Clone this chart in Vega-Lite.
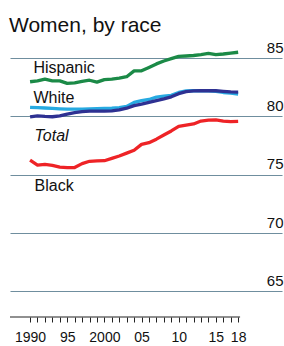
{
  "$schema": "https://vega.github.io/schema/vega-lite/v6.json",
  "autosize": {"type": "none"},
  "padding": {"left": 10, "top": 40, "right": 2, "bottom": 29},
  "width": 272,
  "height": 277,
  "background": "white",
  "config": {"font": "Liberation Sans", "view": {"stroke": null}},
  "title": {"text": "Women, by race", "anchor": "start", "frame": "group", "fontSize": 21, "fontWeight": "normal", "color": "#111111", "offset": 4, "dx": -1},
  "datasets": {
    "lines": [
      {"year": 1990, "series": "Hispanic", "value": 82.97},
      {"year": 1991, "series": "Hispanic", "value": 83.05},
      {"year": 1992, "series": "Hispanic", "value": 83.2},
      {"year": 1993, "series": "Hispanic", "value": 83.05},
      {"year": 1994, "series": "Hispanic", "value": 83.05},
      {"year": 1995, "series": "Hispanic", "value": 82.83},
      {"year": 1996, "series": "Hispanic", "value": 82.88},
      {"year": 1997, "series": "Hispanic", "value": 83.0},
      {"year": 1998, "series": "Hispanic", "value": 83.1},
      {"year": 1999, "series": "Hispanic", "value": 82.94},
      {"year": 2000, "series": "Hispanic", "value": 83.15},
      {"year": 2001, "series": "Hispanic", "value": 83.2},
      {"year": 2002, "series": "Hispanic", "value": 83.28},
      {"year": 2003, "series": "Hispanic", "value": 83.4},
      {"year": 2004, "series": "Hispanic", "value": 83.9},
      {"year": 2005, "series": "Hispanic", "value": 83.91},
      {"year": 2006, "series": "Hispanic", "value": 84.2},
      {"year": 2007, "series": "Hispanic", "value": 84.5},
      {"year": 2008, "series": "Hispanic", "value": 84.75},
      {"year": 2009, "series": "Hispanic", "value": 84.95},
      {"year": 2010, "series": "Hispanic", "value": 85.15},
      {"year": 2011, "series": "Hispanic", "value": 85.18},
      {"year": 2012, "series": "Hispanic", "value": 85.22},
      {"year": 2013, "series": "Hispanic", "value": 85.3},
      {"year": 2014, "series": "Hispanic", "value": 85.4},
      {"year": 2015, "series": "Hispanic", "value": 85.3},
      {"year": 2016, "series": "Hispanic", "value": 85.35},
      {"year": 2017, "series": "Hispanic", "value": 85.42},
      {"year": 2018, "series": "Hispanic", "value": 85.5},
      {"year": 1990, "series": "White", "value": 80.77},
      {"year": 1991, "series": "White", "value": 80.75},
      {"year": 1992, "series": "White", "value": 80.72},
      {"year": 1993, "series": "White", "value": 80.68},
      {"year": 1994, "series": "White", "value": 80.65},
      {"year": 1995, "series": "White", "value": 80.62},
      {"year": 1996, "series": "White", "value": 80.62},
      {"year": 1997, "series": "White", "value": 80.63},
      {"year": 1998, "series": "White", "value": 80.65},
      {"year": 1999, "series": "White", "value": 80.66},
      {"year": 2000, "series": "White", "value": 80.68},
      {"year": 2001, "series": "White", "value": 80.7},
      {"year": 2002, "series": "White", "value": 80.75},
      {"year": 2003, "series": "White", "value": 80.85},
      {"year": 2004, "series": "White", "value": 81.2},
      {"year": 2005, "series": "White", "value": 81.35},
      {"year": 2006, "series": "White", "value": 81.45},
      {"year": 2007, "series": "White", "value": 81.65},
      {"year": 2008, "series": "White", "value": 81.74},
      {"year": 2009, "series": "White", "value": 81.8},
      {"year": 2010, "series": "White", "value": 82.05},
      {"year": 2011, "series": "White", "value": 82.18},
      {"year": 2012, "series": "White", "value": 82.2},
      {"year": 2013, "series": "White", "value": 82.2},
      {"year": 2014, "series": "White", "value": 82.18},
      {"year": 2015, "series": "White", "value": 82.15},
      {"year": 2016, "series": "White", "value": 82.05},
      {"year": 2017, "series": "White", "value": 82.0},
      {"year": 2018, "series": "White", "value": 81.92},
      {"year": 1990, "series": "Black", "value": 76.24},
      {"year": 1991, "series": "Black", "value": 75.82},
      {"year": 1992, "series": "Black", "value": 75.88},
      {"year": 1993, "series": "Black", "value": 75.8},
      {"year": 1994, "series": "Black", "value": 75.65},
      {"year": 1995, "series": "Black", "value": 75.6},
      {"year": 1996, "series": "Black", "value": 75.62},
      {"year": 1997, "series": "Black", "value": 75.95},
      {"year": 1998, "series": "Black", "value": 76.15},
      {"year": 1999, "series": "Black", "value": 76.18},
      {"year": 2000, "series": "Black", "value": 76.2},
      {"year": 2001, "series": "Black", "value": 76.4},
      {"year": 2002, "series": "Black", "value": 76.6},
      {"year": 2003, "series": "Black", "value": 76.85},
      {"year": 2004, "series": "Black", "value": 77.1},
      {"year": 2005, "series": "Black", "value": 77.6},
      {"year": 2006, "series": "Black", "value": 77.75},
      {"year": 2007, "series": "Black", "value": 78.05},
      {"year": 2008, "series": "Black", "value": 78.4},
      {"year": 2009, "series": "Black", "value": 78.75},
      {"year": 2010, "series": "Black", "value": 79.15},
      {"year": 2011, "series": "Black", "value": 79.25},
      {"year": 2012, "series": "Black", "value": 79.35},
      {"year": 2013, "series": "Black", "value": 79.6},
      {"year": 2014, "series": "Black", "value": 79.68},
      {"year": 2015, "series": "Black", "value": 79.7},
      {"year": 2016, "series": "Black", "value": 79.6},
      {"year": 2017, "series": "Black", "value": 79.55},
      {"year": 2018, "series": "Black", "value": 79.57},
      {"year": 1990, "series": "Total", "value": 79.96},
      {"year": 1991, "series": "Total", "value": 80.05},
      {"year": 1992, "series": "Total", "value": 80.0},
      {"year": 1993, "series": "Total", "value": 79.97},
      {"year": 1994, "series": "Total", "value": 80.05},
      {"year": 1995, "series": "Total", "value": 80.2},
      {"year": 1996, "series": "Total", "value": 80.32},
      {"year": 1997, "series": "Total", "value": 80.4},
      {"year": 1998, "series": "Total", "value": 80.45},
      {"year": 1999, "series": "Total", "value": 80.45},
      {"year": 2000, "series": "Total", "value": 80.45},
      {"year": 2001, "series": "Total", "value": 80.48},
      {"year": 2002, "series": "Total", "value": 80.55},
      {"year": 2003, "series": "Total", "value": 80.7},
      {"year": 2004, "series": "Total", "value": 80.92},
      {"year": 2005, "series": "Total", "value": 81.05},
      {"year": 2006, "series": "Total", "value": 81.2},
      {"year": 2007, "series": "Total", "value": 81.35},
      {"year": 2008, "series": "Total", "value": 81.5},
      {"year": 2009, "series": "Total", "value": 81.68},
      {"year": 2010, "series": "Total", "value": 81.95},
      {"year": 2011, "series": "Total", "value": 82.12},
      {"year": 2012, "series": "Total", "value": 82.18},
      {"year": 2013, "series": "Total", "value": 82.2},
      {"year": 2014, "series": "Total", "value": 82.2},
      {"year": 2015, "series": "Total", "value": 82.2},
      {"year": 2016, "series": "Total", "value": 82.15},
      {"year": 2017, "series": "Total", "value": 82.1},
      {"year": 2018, "series": "Total", "value": 82.08}
    ],
    "labels": [
      {"label": "Hispanic", "year": 1990.45, "value": 83.69, "italic": false},
      {"label": "White", "year": 1990.45, "value": 81.12, "italic": false},
      {"label": "Total", "year": 1990.6, "value": 77.89, "italic": true},
      {"label": "Black", "year": 1990.6, "value": 73.6, "italic": false}
    ],
    "baseline": [
      {"year": 1987.3, "year_end": 2018.26, "value": 62.8}
    ]
  },
  "encoding": {
    "x": {"field": "year", "type": "quantitative", "scale": {"domain": [1987.3, 2023.9], "nice": false, "zero": false},
      "axis": {"orient": "bottom", "domain": false, "grid": false, "values": [1990,1991,1992,1993,1994,1995,1996,1997,1998,1999,2000,2001,2002,2003,2004,2005,2006,2007,2008,2009,2010,2011,2012,2013,2014,2015,2016,2017,2018],
        "labelExpr": "datum.value == 1990 || datum.value == 2000 ? '' + datum.value : (datum.value % 5 == 0 || datum.value == 2018) ? slice('' + datum.value, 2) : ''",
        "tickSize": 5, "tickColor": "#222222", "tickWidth": 1, "labelFontSize": 14, "labelColor": "#111111", "labelPadding": 8, "labelFlush": false, "labelOverlap": false, "labelBound": false, "title": null}},
    "y": {"field": "value", "type": "quantitative", "scale": {"domain": [62.8, 86.55], "nice": false, "zero": false},
      "axis": {"orient": "right", "values": [65, 70, 75, 80, 85], "grid": true, "gridColor": "#6F8E9E", "gridWidth": 1.2, "gridOpacity": 1, "domain": false, "ticks": false, "labelAlign": "right", "labelBaseline": "bottom", "labelOffset": -3, "labelPadding": 1, "labelFontSize": 15, "labelColor": "#111111", "title": null}}
  },
  "layer": [
    {
      "data": {"name": "baseline"},
      "mark": {"type": "rule", "color": "#222222", "strokeWidth": 1.2},
      "encoding": {
        "x2": {"field": "year_end"}
      }
    },
    {
      "data": {"name": "lines"},
      "mark": {"type": "line", "strokeWidth": 3.3, "strokeJoin": "round"},
      "encoding": {
        "color": {"field": "series", "type": "nominal", "scale": {"domain": ["Hispanic", "White", "Black", "Total"], "range": ["#1B8A47", "#27AAE1", "#EE2326", "#2E3192"]}, "legend": null},
        "order": {"field": "year"}
      }
    },
    {
      "data": {"name": "labels"},
      "transform": [{"filter": "!datum.italic"}],
      "mark": {"type": "text", "align": "left", "baseline": "alphabetic", "fontSize": 16, "color": "#111111"},
      "encoding": {
        "text": {"field": "label"}
      }
    },
    {
      "data": {"name": "labels"},
      "transform": [{"filter": "datum.italic"}],
      "mark": {"type": "text", "align": "left", "baseline": "alphabetic", "fontSize": 16, "fontStyle": "italic", "color": "#111111"},
      "encoding": {
        "text": {"field": "label"}
      }
    }
  ]
}
